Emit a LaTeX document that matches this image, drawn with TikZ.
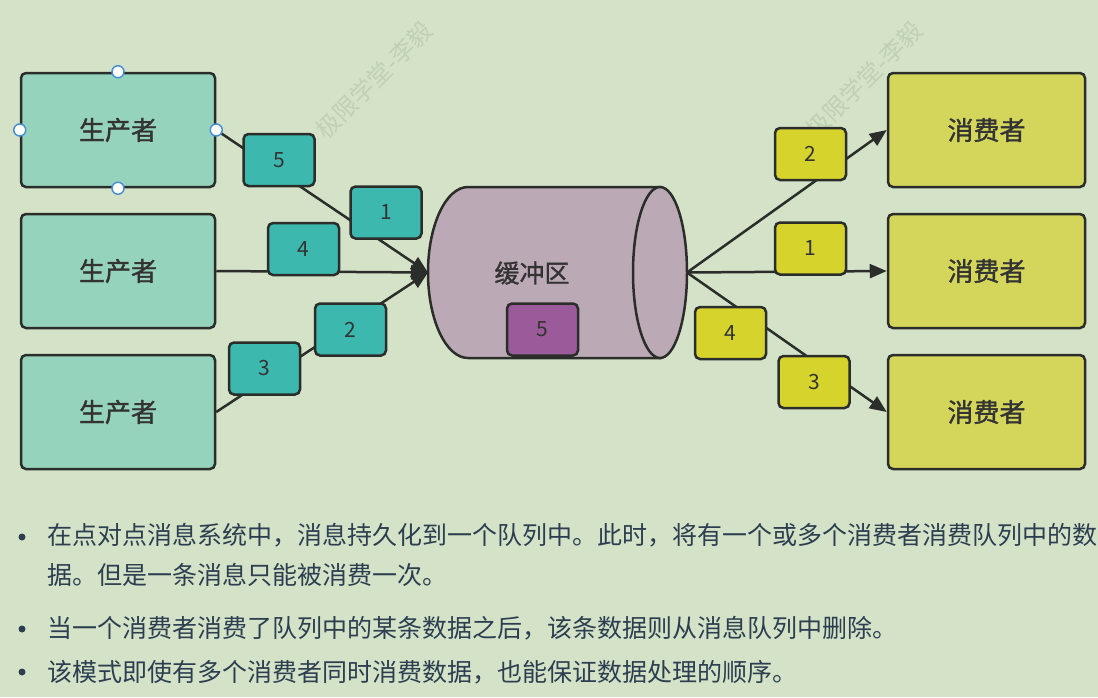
\documentclass[tikz,border=0pt]{standalone}
\usepackage{fontspec}
\newfontfamily\zh{Noto Sans CJK SC}
\newfontfamily\zhbold[FakeBold=1.2]{Noto Sans CJK SC}
\usetikzlibrary{arrows.meta,positioning}
\definecolor{bggreen}{HTML}{D4E3C8}
\definecolor{markgreen}{HTML}{BFD0B5}
\definecolor{prodgreen}{HTML}{96D3BD}
\definecolor{consyellow}{HTML}{D4D65C}
\definecolor{msgteal}{HTML}{3CB8AF}
\definecolor{msgyellow}{HTML}{D6D42C}
\definecolor{queuegray}{HTML}{BBA9B5}
\definecolor{msgpurple}{HTML}{9B5B9B}
\definecolor{edge}{HTML}{2B2D2B}
\definecolor{labelgray}{HTML}{333333}
\definecolor{textcol}{HTML}{2C3E50}
\definecolor{handleblue}{HTML}{4A8FD6}
\begin{document}
\begin{tikzpicture}
  [x=1pt, y=-1pt, >={Triangle[length=17pt,width=14pt]},
    font=\zh,
    producer/.style={%
      rectangle, draw=edge, fill=prodgreen, line width=2.5pt,
      rounded corners=5pt, minimum width=194pt, minimum height=114pt,
      font=\zhbold\fontsize{26}{30}\selectfont, text=labelgray
    },
    consumer/.style={%
      producer, fill=consyellow, minimum width=197pt
    },
    msg/.style={%
      rectangle, draw=edge, fill=msgteal, line width=2.5pt,
      rounded corners=5pt, minimum width=71pt, minimum height=52pt,
      inner sep=0pt, font=\zh\fontsize{21}{24}\selectfont, text=labelgray
    },
    cmsg/.style={%
      msg, fill=msgyellow
    },
    flow/.style={%
      ->, draw=edge, line width=2.5pt
    },
    handle/.style={%
      circle, draw=handleblue, fill=white, line width=1.5pt,
      minimum size=12pt, inner sep=0pt
    },
    wmark/.style={%
      text=markgreen, rotate=45, font=\zh\fontsize{24}{26}\selectfont
    },
    para/.style={%
      anchor=west, inner sep=0pt, text=textcol,
      font=\zh\fontsize{25}{30}\selectfont
    },
    dot/.style={%
      circle, fill=textcol, inner sep=0pt, minimum size=7pt
    },
  ]

  \useasboundingbox (0,0) rectangle (1098,697);
  \fill[bggreen] (0,0) rectangle (1098,697);

  \node[wmark] (w1) at (374,80) {极限学堂-李毅};
  \node[wmark] (w2) at (864,80) {极限学堂-李毅};

  \node[producer] (p1) at (118,130) {生产者};
  \node[producer, below=24.5pt of p1] (p2) {生产者};
  \node[producer, below=24.5pt of p2] (p3) {生产者};

  \node[consumer] (c1) at (986.5,130) {消费者};
  \node[consumer, below=24.5pt of c1] (c2) {消费者};
  \node[consumer, below=24.5pt of c2] (c3) {消费者};

  \path[draw=edge, fill=queuegray, line width=2.5pt]
    (660,187) -- (468,187)
    arc[start angle=270, end angle=90, x radius=40, y radius=85.5]
    -- (660,358) -- cycle;
  \draw[edge, fill=queuegray, line width=2.5pt]
    (660,272.5) ellipse[x radius=27, y radius=85.5];
  \node[font=\zhbold\fontsize{25}{28}\selectfont, text=labelgray] (q) at (532,273) {缓冲区};
  \coordinate (qin) at (428,272.5);
  \coordinate (qout) at (687,272.5);

  \draw[flow] (p1.east) -- (qin);
  \draw[flow] (p2.east) -- (qin);
  \draw[flow] (p3.east) -- (qin);
  \draw[flow] (qout) -- (c1.west);
  \draw[flow] (qout) -- (c2.west);
  \draw[flow] (qout) -- (c3.west);

  \node[msg] (m5) at (279,160) {5};
  \node[msg] (m1) at (386,212.5) {1};
  \node[msg] (m4) at (303.5,249) {4};
  \node[msg] (m2) at (350.5,329.5) {2};
  \node[msg] (m3) at (264.5,368.5) {3};
  \node[msg, fill=msgpurple] (qm5) at (542.5,329.5) {5};

  \node[cmsg] (n2) at (810.5,154) {2};
  \node[cmsg] (n1) at (810.5,248.5) {1};
  \node[cmsg] (n4) at (730.5,333) {4};
  \node[cmsg] (n3) at (814,382) {3};

  \foreach \a in {north,south,east,west}
    \node[handle] (h-\a) at (p1.\a) {};

  \node[dot] (d1) at (22,537) {};
  \node[para] (t1) at (47,535) {在点对点消息系统中，消息持久化到一个队列中。此时，将有一个或多个消费者消费队列中的数};
  \node[para] (t2) at (47,575) {据。但是一条消息只能被消费一次。};
  \node[dot] (d2) at (22,629) {};
  \node[para] (t3) at (47,628) {当一个消费者消费了队列中的某条数据之后，该条数据则从消息队列中删除。};
  \node[dot] (d3) at (22,672) {};
  \node[para] (t4) at (47,672) {该模式即使有多个消费者同时消费数据，也能保证数据处理的顺序。};

\end{tikzpicture}
\end{document}
